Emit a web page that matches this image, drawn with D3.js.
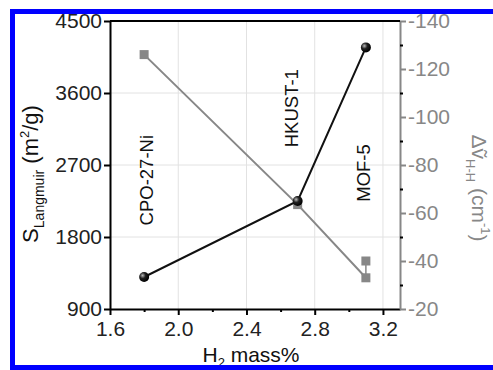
<!DOCTYPE html>
<html>
<head>
    <script src="https://d3js.org/d3.v7.min.js"></script>
    <style>
        body { margin: 0; background: #fff; }
        text { font-family: "Liberation Sans", Arial, sans-serif; }
    </style>
</head>
<body>
    <div id="chart"></div>
    <script>
        // values
        const samples = ["CPO-27-Ni", "HKUST-1", "MOF-5"];
        const h2Mass = [1.8, 2.7, 3.1];
        const surfaceArea = [1300, 2250, 4170];       // S_Langmuir, m2/g
        const hhShift = [-126, -63.5, -33];           // cm-1
        const extraShift = [{ x: 3.1, y: -40 }];      // second MOF-5 point
        const xTicks = [1.6, 2.0, 2.4, 2.8, 3.2];
        const leftTicks = [900, 1800, 2700, 3600, 4500];
        const rightTicks = [-140, -120, -100, -80, -60, -40, -20];
        // where the sample names sit (x in H2 mass%, y in m2/g)
        const labelX = [1.85, 2.7, 3.125];
        const labelY = [2510, 3410, 2600];

        const W = 493, H = 370;
        const margin = { top: 21, right: 93, bottom: 61, left: 110 };
        const width = W - margin.left - margin.right,
            height = H - margin.top - margin.bottom;
        const grey = "#878787";

        const svg = d3.select("#chart").append("svg")
            .attr("width", W).attr("height", H);

        const defs = svg.append("defs");
        const grad = defs.append("radialGradient").attr("id", "ball")
            .attr("cx", "35%").attr("cy", "35%").attr("r", "65%");
        grad.append("stop").attr("offset", "0%").attr("stop-color", "#bbb");
        grad.append("stop").attr("offset", "45%").attr("stop-color", "#222");
        grad.append("stop").attr("offset", "100%").attr("stop-color", "#000");

        const g = svg.append("g")
            .attr("transform", `translate(${margin.left},${margin.top})`);

        const x = d3.scaleLinear().domain([1.6, 3.3]).range([0, width]);
        const yL = d3.scaleLinear().domain([900, 4500]).range([height, 0]);
        const yR = d3.scaleLinear().domain([-20, -140]).range([height, 0]);

        // grid
        g.append("g").selectAll("line").data(xTicks.slice(1)).join("line")
            .attr("x1", d => x(d)).attr("x2", d => x(d))
            .attr("y1", 0).attr("y2", height)
            .attr("stroke", "#e2e2e2").attr("stroke-width", 1);
        g.append("g").selectAll("line").data(leftTicks.slice(1, -1)).join("line")
            .attr("x1", 0).attr("x2", width)
            .attr("y1", d => yL(d)).attr("y2", d => yL(d))
            .attr("stroke", "#e2e2e2").attr("stroke-width", 1);

        // axes
        const fmt = d => String(d);
        const xAxis = g.append("g").attr("transform", `translate(0,${height})`)
            .call(d3.axisBottom(x).tickValues(xTicks).tickFormat(d3.format(".1f")).tickSize(6).tickSizeOuter(0));
        g.append("g").attr("transform", `translate(0,${height})`)
            .call(d3.axisBottom(x).tickValues([1.8, 2.2, 2.6, 3.0]).tickFormat("").tickSize(3).tickSizeOuter(0))
            .select(".domain").remove();
        const yAxisL = g.append("g")
            .call(d3.axisLeft(yL).tickValues(leftTicks).tickFormat(fmt).tickSize(6).tickSizeOuter(0));
        const yAxisR = g.append("g").attr("transform", `translate(${width},0)`)
            .call(d3.axisRight(yR).tickValues(rightTicks).tickFormat(fmt).tickSize(6).tickSizeOuter(0));
        g.append("g").attr("transform", `translate(${width},0)`)
            .call(d3.axisRight(yR).tickValues(d3.range(-130, -20, 20)).tickFormat("").tickSize(3).tickSizeOuter(0))
            .select(".domain").attr("stroke", grey);

        [xAxis, yAxisL].forEach(a => {
            a.selectAll(".domain, line").attr("stroke", "#000").attr("stroke-width", 2);
            a.selectAll("text").attr("font-size", 21).attr("fill", "#222");
        });
        xAxis.selectAll("text").attr("dy", "0.85em");
        yAxisL.selectAll("text").attr("x", -8);
        yAxisR.selectAll(".domain, line").attr("stroke", grey).attr("stroke-width", 2);
        yAxisR.selectAll("text").attr("font-size", 21).attr("fill", grey).attr("x", 8);
        g.selectAll(".tick line").attr("stroke-width", 2);

        // top frame
        g.append("line").attr("x1", 0).attr("x2", width).attr("y1", 0).attr("y2", 0)
            .attr("stroke", "#000").attr("stroke-width", 2);

        // grey series (right axis)
        const greyPts = h2Mass.map((m, i) => ({ x: m, y: hhShift[i] }));
        g.append("path").datum(greyPts)
            .attr("fill", "none").attr("stroke", grey).attr("stroke-width", 2)
            .attr("d", d3.line().x(d => x(d.x)).y(d => yR(d.y)));
        g.append("line")
            .attr("x1", x(extraShift[0].x)).attr("x2", x(extraShift[0].x))
            .attr("y1", yR(extraShift[0].y)).attr("y2", yR(hhShift[2]))
            .attr("stroke", grey).attr("stroke-width", 1.5);
        g.append("g").selectAll("rect").data(greyPts.concat(extraShift)).join("rect")
            .attr("x", d => x(d.x) - 4.5).attr("y", d => yR(d.y) - 4.5)
            .attr("width", 9).attr("height", 9).attr("fill", grey);

        // black series (left axis)
        const blackPts = h2Mass.map((m, i) => ({ x: m, y: surfaceArea[i] }));
        g.append("path").datum(blackPts)
            .attr("fill", "none").attr("stroke", "#111").attr("stroke-width", 2)
            .attr("d", d3.line().x(d => x(d.x)).y(d => yL(d.y)));
        g.append("g").selectAll("circle").data(blackPts).join("circle")
            .attr("cx", d => x(d.x)).attr("cy", d => yL(d.y)).attr("r", 5)
            .attr("fill", "url(#ball)");

        // sample labels
        g.append("g").selectAll("text").data(samples).join("text")
            .attr("transform", (d, i) => `translate(${x(labelX[i])},${yL(labelY[i])}) rotate(-90)`)
            .attr("text-anchor", "middle").attr("font-size", 18.5).attr("fill", "#111")
            .text(d => d);

        // axis titles
        const tl = svg.append("text").attr("transform", "translate(38,174) rotate(-90)")
            .attr("text-anchor", "middle").attr("font-size", 22).attr("fill", "#111");
        tl.append("tspan").text("S");
        tl.append("tspan").attr("font-size", 14).attr("dy", 6).text("Langmuir");
        tl.append("tspan").attr("dy", -6).text(" (m");
        tl.append("tspan").attr("font-size", 13).attr("dy", -9).text("2");
        tl.append("tspan").attr("dy", 9).text("/g)");

        const tr = svg.append("text").attr("transform", "translate(472,188) rotate(90)")
            .attr("text-anchor", "middle").attr("font-size", 21).attr("fill", grey);
        tr.append("tspan").text("\u0394\u1E7D");
        tr.append("tspan").attr("font-size", 13).attr("dy", 6).text("H-H");
        tr.append("tspan").attr("dy", -6).text(" (cm");
        tr.append("tspan").attr("font-size", 13).attr("dy", -9).text("-1");
        tr.append("tspan").attr("dy", 9).text(")");

        const tb = svg.append("text").attr("transform", "translate(251,362)")
            .attr("text-anchor", "middle").attr("font-size", 21).attr("fill", "#111");
        tb.append("tspan").text("H");
        tb.append("tspan").attr("font-size", 13).attr("dy", 5).text("2");
        tb.append("tspan").attr("dy", -5).text(" mass%");

        // blue frame
        svg.append("path").attr("d", "M 600 11.5 H 12.5 V 367.5 H 600")
            .attr("fill", "none").attr("stroke", "#0000ff").attr("stroke-width", 5);
    </script>
</body>
</html>
